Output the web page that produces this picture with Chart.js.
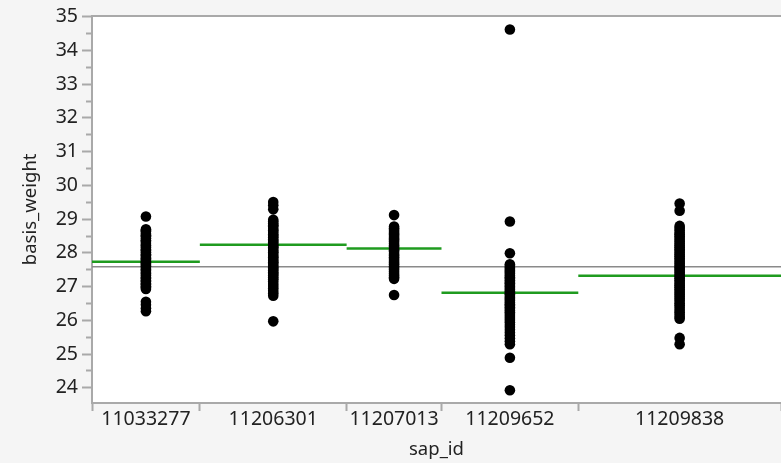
<!DOCTYPE html>
<html>
<head>
<meta charset="utf-8">
<script src="https://cdn.jsdelivr.net/npm/chart.js@4/dist/chart.umd.min.js"></script>
<style>
  html, body { margin: 0; padding: 0; background: #f5f5f5; }
  #wrap { width: 781px; height: 463px; }
  canvas { display: block; }
</style>
</head>
<body>
<div id="wrap"><canvas id="chart" width="781" height="463"></canvas></div>
<script>
// Groups along the x axis (sap_id) and the number of rows in each
const categories = ['11033277', '11206301', '11207013', '11209652', '11209838'];
const sampleSizes = [108, 147, 95, 137, 203];

// Group means and the overall mean of basis_weight
const groupMeans = [27.74, 28.24, 28.13, 26.82, 27.32];
const grandMean = 27.59;

// Labelled y ticks
const yTickLabels = [24, 25, 26, 27, 28, 29, 30, 31, 32, 33, 34, 35];

// basis_weight observations per sap_id
const weights11033277 = [29.08,
  28.70, 28.66, 28.63, 28.57, 28.52, 28.49, 28.43, 28.37, 28.35, 28.29, 28.23, 28.21, 28.16, 28.10,
  28.07, 28.02, 27.96, 27.93, 27.88, 27.84, 27.80, 27.75, 27.71, 27.68, 27.64, 27.60, 27.55, 27.51,
  27.47, 27.41, 27.38, 27.33, 27.27, 27.24, 27.18, 27.15, 27.09, 27.06, 27.01, 26.97, 26.93,
  26.55, 26.46, 26.36, 26.27];
const weights11206301 = [29.51, 29.41, 29.29,
  28.98, 28.93, 28.87, 28.82, 28.78, 28.71, 28.66, 28.62, 28.55, 28.51, 28.46, 28.40, 28.36, 28.31,
  28.25, 28.21, 28.17, 28.12, 28.06, 28.02, 27.97, 27.91, 27.87, 27.82, 27.77, 27.72, 27.68, 27.62,
  27.57, 27.53, 27.48, 27.42, 27.38, 27.33, 27.27, 27.22, 27.15, 27.08, 27.02, 26.95, 26.88, 26.80,
  26.73, 25.97];
const weights11207013 = [29.12,
  28.78, 28.73, 28.68, 28.62, 28.57, 28.53, 28.47, 28.42, 28.38, 28.33, 28.27, 28.22, 28.18, 28.12,
  28.08, 28.03, 27.97, 27.92, 27.87, 27.82, 27.76, 27.71, 27.66, 27.60, 27.55, 27.50, 27.44, 27.38,
  27.33, 27.28, 27.23, 26.75];
const weights11209652 = [34.62, 28.93, 27.99,
  27.66, 27.62, 27.57, 27.52, 27.47, 27.43, 27.38, 27.33, 27.28, 27.24, 27.19, 27.14, 27.10, 27.05,
  27.00, 26.96, 26.91, 26.86, 26.81, 26.77, 26.72, 26.67, 26.63, 26.58, 26.53, 26.48, 26.44, 26.39,
  26.34, 26.29, 26.24, 26.19, 26.13, 26.07, 26.01, 25.94, 25.87, 25.80, 25.72, 25.64, 25.56, 25.47,
  25.38, 25.29, 24.89, 23.93];
const weights11209838 = [29.46, 29.25,
  28.80, 28.74, 28.67, 28.60, 28.55, 28.49, 28.44, 28.38, 28.33, 28.27, 28.22, 28.17, 28.11, 28.06,
  28.00, 27.95, 27.90, 27.84, 27.79, 27.73, 27.68, 27.62, 27.57, 27.52, 27.46, 27.41, 27.35, 27.30,
  27.25, 27.19, 27.14, 27.08, 27.03, 26.98, 26.92, 26.87, 26.81, 26.76, 26.70, 26.64, 26.58, 26.51,
  26.45, 26.38, 26.31, 26.24, 26.17, 26.10, 26.05, 25.48, 25.29];

const groupValues = [weights11033277, weights11206301, weights11207013, weights11209652, weights11209838];

// Each group gets a slice of the x axis proportional to its size
const bounds = [0];
sampleSizes.forEach(n => bounds.push(bounds[bounds.length - 1] + n));
const total = bounds[bounds.length - 1];
const centers = categories.map((_, i) => (bounds[i] + bounds[i + 1]) / 2);

const points = [];
groupValues.forEach((vals, i) => vals.forEach(v => points.push({ x: centers[i], y: v })));

const AXIS_GREY = '#a9a9a9';
const TEXT = '#222222';
const FONT = 'Noto Sans';

const meanLines = groupMeans.map((m, i) => ({
  data: [{ x: bounds[i], y: m }, { x: bounds[i + 1], y: m }],
  showLine: true,
  borderColor: '#1f9b1f',
  borderWidth: 2.5,
  pointRadius: 0,
  order: 1
}));

const plotBackground = {
  id: 'plotBackground',
  beforeDraw(chart) {
    const { ctx, chartArea: { left, top, right, bottom } } = chart;
    ctx.save();
    ctx.fillStyle = '#ffffff';
    ctx.fillRect(left, top, right - left, bottom - top);
    ctx.restore();
  }
};

new Chart(document.getElementById('chart'), {
  type: 'scatter',
  data: {
    datasets: [
      {
        data: points,
        pointRadius: 5.3,
        pointHoverRadius: 5.3,
        backgroundColor: '#000000',
        borderColor: '#000000',
        borderWidth: 0,
        order: 0
      },
      {
        data: [{ x: 0, y: grandMean }, { x: total, y: grandMean }],
        showLine: true,
        borderColor: '#8a8a8a',
        borderWidth: 1.5,
        pointRadius: 0,
        order: 2
      },
      ...meanLines
    ]
  },
  options: {
    responsive: false,
    animation: false,
    layout: { padding: 0, autoPadding: false },
    plugins: { legend: { display: false }, tooltip: { enabled: false } },
    scales: {
      x: {
        type: 'linear',
        position: 'bottom',
        min: 0,
        max: total,
        afterBuildTicks: scale => {
          const t = bounds.map(v => ({ value: v, edge: true }))
            .concat(centers.map((v, i) => ({ value: v, edge: false, idx: i })));
          t.sort((a, b) => a.value - b.value);
          scale.ticks = t;
        },
        afterFit: scale => {
          scale.height = 60;
          scale.paddingLeft = 0;
          scale.paddingRight = 0;
        },
        ticks: {
          autoSkip: false,
          maxRotation: 0,
          minRotation: 0,
          padding: -3,
          color: TEXT,
          font: { family: FONT, size: 19.5 },
          callback: (value, index, ticks) => ticks[index].edge ? '' : categories[ticks[index].idx]
        },
        grid: {
          drawOnChartArea: false,
          tickLength: 8,
          tickWidth: 2,
          tickColor: ctx => (ctx.tick && ctx.tick.edge) ? AXIS_GREY : 'rgba(0,0,0,0)'
        },
        border: { color: AXIS_GREY, width: 2 },
        title: {
          display: true,
          text: 'sap_id',
          color: TEXT,
          font: { family: FONT, size: 18.5 },
          padding: { top: 0, bottom: 2 }
        }
      },
      xTop: {
        type: 'linear',
        position: 'top',
        min: 0,
        max: total,
        afterFit: scale => {
          scale.height = 14;
          scale.paddingLeft = 0;
          scale.paddingRight = 0;
        },
        ticks: { display: false },
        grid: { display: false, drawTicks: false },
        border: { display: true, color: AXIS_GREY, width: 2 }
      },
      y: {
        min: 23.55,
        max: 35.03,
        afterBuildTicks: scale => {
          const t = [];
          yTickLabels.forEach((v, i) => {
            t.push({ value: v, isMajor: true });
            if (i < yTickLabels.length - 1) t.push({ value: (v + yTickLabels[i + 1]) / 2, isMajor: false });
          });
          scale.ticks = t;
        },
        afterFit: scale => { scale.width = 92; },
        ticks: {
          autoSkip: false,
          padding: 4,
          color: TEXT,
          font: { family: FONT, size: 19.5 },
          callback: (value, index, ticks) => ticks[index].isMajor ? String(value) : ''
        },
        grid: {
          drawOnChartArea: false,
          tickLength: 10,
          tickWidth: 2,
          tickColor: AXIS_GREY,
          tickBorderDash: ctx => (ctx.tick && !ctx.tick.isMajor) ? [0, 4, 12, 0] : []
        },
        border: { color: AXIS_GREY, width: 2 },
        title: {
          display: true,
          text: 'basis_weight',
          color: TEXT,
          font: { family: FONT, size: 18.5 },
          padding: { top: 20, bottom: 0 }
        }
      }
    }
  },
  plugins: [plotBackground]
});
</script>
</body>
</html>
